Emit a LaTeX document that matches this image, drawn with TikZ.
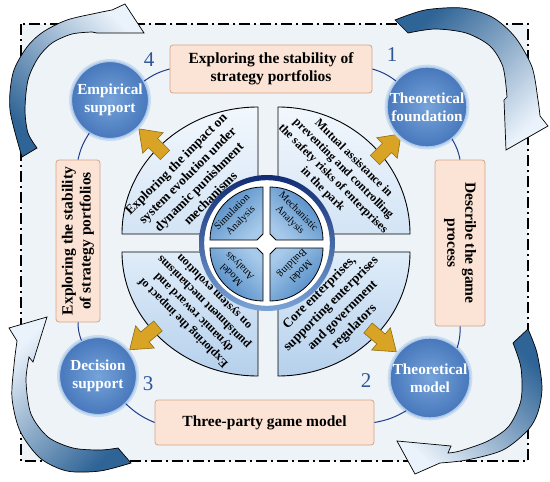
\documentclass[tikz,border=0pt]{standalone}
\usepackage{fontspec}
\setmainfont{Liberation Serif}
\definecolor{bgfill}{HTML}{EEF3F8}
\definecolor{navyline}{HTML}{1E3C8C}
\definecolor{circin}{HTML}{76A3DA}
\definecolor{circout}{HTML}{4878BC}
\definecolor{circedge}{HTML}{A9C7E9}
\definecolor{halo}{HTML}{CADCF0}
\definecolor{boxfill}{HTML}{FBE4D5}
\definecolor{boxedge}{HTML}{D6A487}
\definecolor{goldfill}{HTML}{D9A426}
\definecolor{golddraw}{HTML}{8C6D12}
\definecolor{numblue}{HTML}{2E5597}
\definecolor{arrowdark}{HTML}{2F6496}
\definecolor{arrowlight}{HTML}{EAF2FB}
\definecolor{ringtop}{HTML}{122C74}
\definecolor{ringbot}{HTML}{7AA3D6}
\definecolor{secTtop}{HTML}{F2F7FD}
\definecolor{secTbot}{HTML}{D3E4F5}
\definecolor{secBtop}{HTML}{E0EDF9}
\definecolor{secBbot}{HTML}{B5D0EC}
\definecolor{smdark}{HTML}{4A86C3}
\definecolor{smlight}{HTML}{A8CAEA}
\begin{document}
\begin{tikzpicture}[x=1pt,y=1pt,
  circnode/.style={circle, minimum size=77pt, inner sep=0pt, draw=circedge, line width=1.2pt,
    inner color=circin, outer color=circout, text=white,
    font=\fontsize{15.3}{18}\selectfont\bfseries, align=center,
    preaction={draw=halo, line width=5pt}},
  boxnode/.style={draw=boxedge, fill=boxfill, rounded corners=3pt, line width=0.8pt, inner sep=2pt,
    font=\fontsize{15.5}{18}\selectfont\bfseries, align=center, text=black},
  numnode/.style={font=\fontsize{21}{21}\selectfont, text=numblue, inner sep=0pt},
  sectA/.style={font=\fontsize{13.3}{16.2}\selectfont\bfseries, align=center, inner sep=0pt, text=black},
  sectB/.style={font=\fontsize{12}{14.6}\selectfont\bfseries, align=center, inner sep=0pt, text=black},
  smalltxt/.style={font=\fontsize{10.3}{12}\selectfont, align=center, inner sep=0pt, text=black},
  conn/.style={draw=navyline, line width=1pt},
  bigarrow/.style={draw=black, line width=0.7pt},
  framebox/.style={draw=black, line width=1.3pt, dash pattern=on 11pt off 4pt on 2pt off 4pt},
  bigsec/.style={draw=black, line width=0.9pt},
  smsec/.style={draw=black, line width=0.8pt, top color=smdark, bottom color=smlight},
  goldarrow/.pic={\draw[fill=goldfill, draw=golddraw, line width=0.6pt]
     (0,-6.5) -- (17,-6.5) -- (17,-14.5) -- (37,0) -- (17,14.5) -- (17,6.5) -- (0,6.5) -- cycle;}
]
\useasboundingbox (0,0) rectangle (550,-482);
\fill[white] (0,0) rectangle (550,-482);
% background and frame
\fill[bgfill] (21,-24) rectangle (528,-461);
\draw[framebox] (21,-24) rectangle (528,-461);

% curved arrows
\path[bigarrow, top color=arrowlight, bottom color=arrowdark, shading angle=-45]
  plot[smooth] coordinates {(22,-157) (10,-110) (13,-73) (27,-47) (43,-32) (67,-20) (97,-13) (112,-10)}
  -- (125,-4) -- (144,-33) -- (97,-33)
  -- plot[smooth] coordinates {(92,-32) (72,-34) (52,-43) (38,-58) (28,-80) (25,-110) (28,-133) (37,-148)}
  -- cycle;
\path[bigarrow, top color=arrowdark, bottom color=arrowlight, shading angle=45]
  plot[smooth] coordinates {(395,-20) (425,-10) (462,-8) (492,-17) (515,-37) (532,-67) (538,-100) (540,-116)}
  -- (548,-126) -- (506,-150) -- (504,-100)
  -- plot[smooth] coordinates {(507,-97) (503,-67) (490,-46) (466,-33) (435,-29) (408,-33)}
  -- cycle;
\path[bigarrow, top color=arrowdark, bottom color=arrowlight, shading angle=-45]
  plot[smooth] coordinates {(528,-329) (537,-353) (542,-387) (538,-412) (528,-430) (503,-450) (467,-460) (440,-463)}
  -- (415,-474) -- (397,-441) -- (451,-446)
  -- plot[smooth] coordinates {(448,-453) (460,-451) (488,-441) (509,-426) (521,-400) (521,-368) (513,-343)}
  -- cycle;
\path[bigarrow, top color=arrowlight, bottom color=arrowdark, shading angle=45]
  plot[smooth] coordinates {(131,-463) (100,-471) (67,-471) (40,-458) (20,-431) (12,-398) (14,-365) (17,-341)}
  -- (9,-328) -- (47,-317) -- (33,-362)
  -- plot[smooth] coordinates {(29,-357) (26,-381) (31,-414) (48,-437) (73,-448) (100,-450) (118,-448)}
  -- cycle;

% big sectors
\path[bigsec, top color=secTtop, bottom color=secTbot]
  (258,-234) -- (122,-234) arc[start angle=180, end angle=90, x radius=136, y radius=127] -- cycle;
\path[bigsec, top color=secTtop, bottom color=secTbot]
  (278,-234) -- (278,-107) arc[start angle=90, end angle=0, x radius=132, y radius=127] -- cycle;
\path[bigsec, top color=secBtop, bottom color=secBbot]
  (258,-252) -- (258,-376) arc[start angle=270, end angle=180, x radius=136, y radius=124] -- cycle;
\path[bigsec, top color=secBtop, bottom color=secBbot]
  (278,-252) -- (410,-252) arc[start angle=0, end angle=-90, x radius=132, y radius=124] -- cycle;

% inner disk and ring
\fill[white] (267,-243) circle[radius=63];
\shade[top color=ringtop, bottom color=ringbot, even odd rule]
  (267,-243) circle[radius=68] (267,-243) circle[radius=62.8];

% small sectors
\path[smsec, shading angle=45]
  (210,-240) arc[start angle=180, end angle=90, radius=53] -- (263,-234) -- (257,-240) -- cycle;
\path[smsec, shading angle=-45]
  (270,-187) arc[start angle=90, end angle=0, radius=53] -- (276,-240) -- (270,-234) -- cycle;
\path[smsec, shading angle=135]
  (263,-301) arc[start angle=270, end angle=180, radius=53] -- (257,-248) -- (263,-254) -- cycle;
\path[smsec, shading angle=-135]
  (323,-248) arc[start angle=0, end angle=-90, radius=53] -- (270,-254) -- (276,-248) -- cycle;

% small sector texts
\node[smalltxt, rotate=45] (s1) at (236.7,-216.7) {Simulation\\Analysis};
\node[smalltxt, rotate=-45] (s2) at (294,-216) {Mechanistic\\Analysis};
\node[smalltxt, rotate=135] (s3) at (236,-270) {Model\\Analysis};
\node[smalltxt, rotate=225] (s4) at (296,-267) {Model\\Building};

% big sector texts
\node[sectA, rotate=45] (q1) at (193,-181) {Exploring the impact on\\system evolution under\\dynamic punishment\\mechanisms};
\node[sectB, rotate=-45] (q2) at (338,-174) {Mutual assistance in\\preventing and controlling\\the safety risks of enterprises\\in the park};
\node[sectA, rotate=45] (q3) at (337,-310) {Core enterprises,\\supporting enterprises\\and government\\regulators};
\node[sectB, rotate=135] (q4) at (199,-307) {Exploring the impact of\\dynamic reward and\\punishment mechanisms\\on system evolution};

% yellow arrows
\pic[rotate=135] at (165,-155) {goldarrow};
\pic[rotate=45] at (375,-160) {goldarrow};
\pic[rotate=-40] at (368,-328) {goldarrow};
\pic[rotate=-140] at (158,-326) {goldarrow};

% boxes
\node[boxnode, minimum width=202pt, minimum height=48pt] (topbox) at (271,-69) {Exploring the stability of\\strategy portfolios};
\node[boxnode, rotate=-90, minimum width=166pt, minimum height=50pt] (rightbox) at (460,-243) {Describe the game\\process};
\node[boxnode, minimum width=219pt, minimum height=45pt] (botbox) at (264.5,-422.5) {Three-party game model};
\node[boxnode, rotate=90, minimum width=162pt, minimum height=44pt] (leftbox) at (78,-241) {Exploring the stability\\of strategy portfolios};

% circles
\node[circnode] (emp) at (110,-100) {Empirical\\support};
\node[circnode] (found) at (427,-107) {Theoretical\\foundation};
\node[circnode] (dec) at (98,-376) {Decision\\support};
\node[circnode] (model) at (430,-378) {Theoretical\\model};

% connectors
\draw[conn] (emp.29) to[bend left=10] (topbox.west);
\draw[conn] (topbox.east) to[bend left=10] (found.140);
\draw[conn] (found.-52) to[bend left=10] (rightbox.west);
\draw[conn] (rightbox.east) to[bend left=10] (model.48);
\draw[conn] (model.-126) to[bend left=10] (botbox.east);
\draw[conn] (botbox.west) to[bend left=10] (dec.-45);
\draw[conn] (dec.115) to[bend left=10] (leftbox.west);
\draw[conn] (leftbox.east) to[bend left=10] (emp.-122);

% numbers
\node[numnode] (n4) at (149,-60) {4};
\node[numnode] (n1) at (392,-55) {1};
\node[numnode] (n3) at (148,-384) {3};
\node[numnode] (n2) at (366,-381) {2};
\end{tikzpicture}
\end{document}
